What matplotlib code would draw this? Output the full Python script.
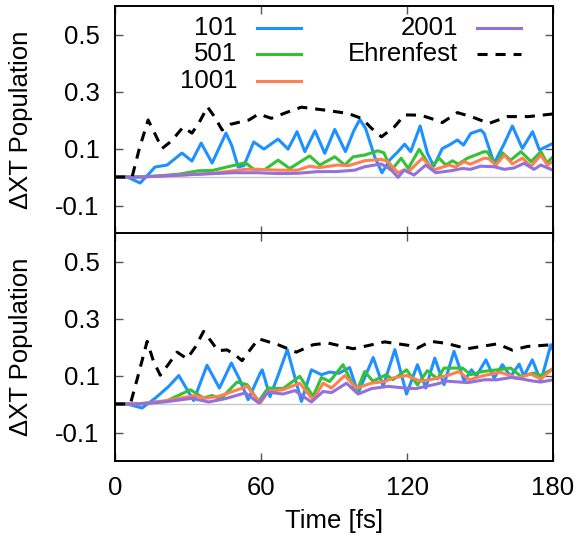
import matplotlib
matplotlib.use('Agg')
from matplotlib import pyplot as plt

# time [fs] / population values, top panel
top_t_101 = [0, 5, 10.3, 14, 16.4, 21.4, 27.5, 31.6, 35.4, 39.9, 45.6, 48, 50.6, 53, 57,
             61.2, 67, 71.1, 74.8, 78, 82.2, 86.2, 90.3, 94.7, 98, 100.6, 103, 106.7, 109.7,
             112.9, 116.3, 119, 121.5, 125.4, 128.4, 131, 134.5, 137.3, 140.7, 143.2, 146.2,
             150.3, 151.7, 155.8, 160, 163.3, 167.4, 171.6, 174.4, 180]
top_v_101 = [0, 0, -0.021, 0.012, 0.035, 0.042, 0.084, 0.056, 0.119, 0.049, 0.154, 0.11, 0.035,
             0.04, 0.123, 0.098, 0.133, 0.098, 0.159, 0.089, 0.162, 0.083, 0.167, 0.089, 0.16,
             0.202, 0.17, 0.071, 0.015, 0.06, 0.089, 0.115, 0.089, 0.179, 0.083, 0.038, 0.1,
             0.112, 0.13, 0.112, 0.153, 0.165, 0.153, 0.048, 0.118, 0.179, 0.1, 0.159, 0.095,
             0.118]

top_t_501 = [0, 8, 16.6, 26.2, 34.4, 40, 45.4, 53.6, 57, 61.5, 67, 71.8, 80, 84.2, 90.3, 94.4,
             97.9, 102.6, 108, 110.5, 113.6, 117.6, 120.5, 125, 129.8, 133.2, 135.9, 138.7, 141,
             144.8, 151.7, 153, 156.5, 159.2, 162.6, 166.8, 171, 175, 177.5, 180]
top_v_501 = [0, 0, 0.003, 0.01, 0.022, 0.023, 0.034, 0.05, 0.027, 0.026, 0.059, 0.03, 0.074,
             0.042, 0.071, 0.042, 0.071, 0.077, 0.092, 0.085, 0.024, 0.066, 0.03, 0.097, 0.034,
             0.066, 0.042, 0.057, 0.045, 0.066, 0.089, 0.088, 0.042, 0.085, 0.059, 0.089, 0.054,
             0.089, 0.05, 0.071]

top_t_1001 = [0, 10, 25, 39.9, 53.6, 58.8, 67, 75, 80, 84, 91.5, 96, 102.6, 109.4, 112,
              116.3, 118.8, 121, 126.3, 131, 137.3, 140, 143.4, 146, 151.7, 153.5, 156.5, 160,
              163.3, 167.4, 171, 175, 177.7, 180]
top_v_1001 = [0, 0, 0.006, 0.013, 0.027, 0.027, 0.024, 0.024, 0.038, 0.033, 0.042, 0.04, 0.057,
              0.062, 0.055, 0.015, 0.025, 0.022, 0.066, 0.025, 0.042, 0.035, 0.054, 0.045, 0.066,
              0.065, 0.042, 0.077, 0.046, 0.066, 0.038, 0.077, 0.042, 0.055]

top_t_2001 = [0, 10, 30, 48.6, 58.8, 67, 75, 83.4, 91, 98.5, 102.6, 109.4, 113.6, 116.3, 118.8,
              122.9, 127.7, 131.8, 138, 142.8, 146, 150.3, 155.8, 160, 164, 168.1, 172.2, 175,
              180]
top_v_2001 = [0, 0, 0.008, 0.015, 0.015, 0.012, 0.013, 0.019, 0.019, 0.024, 0.036, 0.046, 0.024,
              -0.001, 0.024, 0.007, 0.042, 0.015, 0.022, 0.03, 0.027, 0.038, 0.036, 0.027, 0.032,
              0.048, 0.027, 0.042, 0.024]

top_t_ehr = [0, 7, 10, 13.6, 16.5, 19.3, 23, 28, 31.6, 34.5, 38, 41, 44, 47.5, 51.4, 55, 59,
             64.2, 70, 76.6, 86, 95.8, 101.5, 105.4, 109.5, 114.9, 119, 125.6, 130, 134.5,
             140.7, 147, 153.7, 161.3, 170, 179.7]
top_v_ehr = [0, 0, 0.1, 0.2, 0.15, 0.1, 0.125, 0.175, 0.154, 0.19, 0.246, 0.21, 0.165, 0.185,
             0.193, 0.2, 0.221, 0.206, 0.225, 0.245, 0.235, 0.223, 0.205, 0.171, 0.141, 0.177,
             0.218, 0.217, 0.205, 0.191, 0.226, 0.21, 0.188, 0.212, 0.212, 0.221]

# bottom panel
bot_t_101 = [0, 5, 11.1, 16.6, 22.1, 26.2, 32.3, 37.8, 42.9, 47.8, 51, 54.7, 59.7, 60.5, 63.7,
             67, 70.8, 76.6, 80.7, 84.8, 88.2, 92, 96.4, 99.9, 106.1, 110.2, 115, 119.8, 124.3,
             127.7, 131.4, 135.2, 139.3, 143.5, 146.5, 148.5, 152.4, 155.8, 159.2, 162.6, 166.1,
             168, 171.5, 175, 179.1, 180]
bot_v_101 = [0, 0, -0.014, 0.021, 0.062, 0.1, 0.012, 0.136, 0.056, 0.144, 0.09, 0.015, 0.109,
             0.12, 0.026, 0.1, 0.191, 0.009, 0.12, 0.103, 0.112, 0.108, 0.128, 0.038, 0.163,
             0.062, 0.191, 0.035, 0.138, 0.056, 0.161, 0.068, 0.185, 0.08, 0.12, 0.098, 0.155,
             0.091, 0.138, 0.097, 0.14, 0.098, 0.155, 0.08, 0.208, 0.19]

bot_t_501 = [0, 8, 20.7, 31, 36.4, 39.9, 43.5, 50.1, 54.3, 59, 62.9, 69, 75.9, 81.4, 84.8, 88.2,
             93.7, 99.2, 102.6, 106, 111.5, 114.2, 119.8, 124.3, 128.4, 132.5, 135.2, 142.8,
             146.2, 151, 157.1, 162.6, 166.8, 172.2, 175, 180]
bot_v_501 = [0, 0, 0.009, 0.05, 0.021, 0.03, 0.018, 0.077, 0.068, 0.009, 0.056, 0.054, 0.097,
             0.027, 0.093, 0.079, 0.138, 0.042, 0.114, 0.08, 0.103, 0.085, 0.12, 0.067, 0.117,
             0.088, 0.126, 0.126, 0.103, 0.114, 0.12, 0.126, 0.097, 0.109, 0.1, 0.124]

bot_t_1001 = [0, 10, 21, 33, 37, 42.6, 54.3, 59.7, 62.9, 69, 75.9, 81.4, 85.5, 89, 94.4, 99.2,
              105.4, 110.8, 114.2, 119.8, 125.6, 131.1, 136.6, 141.4, 145.5, 151.7, 158.5,
              165.4, 170.8, 175, 180]
bot_v_1001 = [0, 0, 0.012, 0.03, 0.02, 0.027, 0.062, 0.003, 0.044, 0.05, 0.073, 0.015, 0.073,
              0.056, 0.1, 0.056, 0.073, 0.079, 0.091, 0.1, 0.08, 0.088, 0.1, 0.114, 0.085, 0.1,
              0.111, 0.091, 0.105, 0.088, 0.124]

bot_t_2001 = [0, 10, 21, 31.6, 38.5, 45.4, 53.6, 59, 62.9, 69, 73.9, 80.7, 85.5, 89, 95.1, 99.9,
              105.4, 112.2, 119.1, 123.6, 131.1, 136.6, 140, 145, 151.7, 157, 162.6, 167,
              172.2, 175, 180]
bot_v_2001 = [0, 0, 0.008, 0.02, 0.007, 0.019, 0.039, 0.004, 0.042, 0.035, 0.047, 0.007, 0.044,
              0.04, 0.073, 0.035, 0.054, 0.062, 0.056, 0.054, 0.068, 0.08, 0.078, 0.075, 0.085,
              0.085, 0.093, 0.088, 0.08, 0.077, 0.085]

bot_t_ehr = [0, 6.3, 9.5, 13.2, 15.8, 18.6, 22, 25.5, 29.6, 33, 36.4, 39.5, 42.3, 46, 49,
             52.2, 55.5, 59, 67, 74.5, 81.4, 87.5, 97.8, 104, 110.8, 120.4, 124.3, 129.7, 136,
             144.8, 157.1, 163.3, 169.5, 179.7]
bot_v_ehr = [0, 0, 0.1, 0.22, 0.15, 0.101, 0.14, 0.182, 0.159, 0.2, 0.255, 0.22, 0.187, 0.19,
             0.175, 0.152, 0.19, 0.229, 0.208, 0.182, 0.208, 0.214, 0.194, 0.205, 0.218, 0.206,
             0.196, 0.22, 0.213, 0.194, 0.211, 0.189, 0.202, 0.208]

labels = ['101', '501', '1001', '2001', 'Ehrenfest']
colors = ['#1e90ff', '#33c233', '#ff7f50', '#9370db', 'black']

yticks = [-0.1, 0.1, 0.3, 0.5]
ytick_labels = ['-0.1', '0.1', '0.3', '0.5']
xticks = [0, 60, 120, 180]

plt.rcParams['font.family'] = ['Liberation Sans', 'DejaVu Sans']
plt.rcParams['font.size'] = 18.5

fig = plt.figure(figsize=(5.76, 5.36), dpi=100)
ax1 = fig.add_axes([0.1997, 0.5634, 0.7604, 0.4254])
ax2 = fig.add_axes([0.1997, 0.1399, 0.7604, 0.4254])

panels = [
    (ax1, [(top_t_101, top_v_101), (top_t_501, top_v_501), (top_t_1001, top_v_1001),
           (top_t_2001, top_v_2001), (top_t_ehr, top_v_ehr)]),
    (ax2, [(bot_t_101, bot_v_101), (bot_t_501, bot_v_501), (bot_t_1001, bot_v_1001),
           (bot_t_2001, bot_v_2001), (bot_t_ehr, bot_v_ehr)]),
]

for ax, series in panels:
    ax.axhline(0, color='#c8c8c8', lw=1.0, zorder=1)
    for (t, v), lab, c in zip(series, labels, colors):
        if lab == 'Ehrenfest':
            ax.plot(t, v, color=c, lw=2.2, dashes=(3.3, 2.6), zorder=3,
                    dash_joinstyle='round', dash_capstyle='butt')
        else:
            ax.plot(t, v, color=c, lw=2.2, zorder=2, solid_joinstyle='round')
    ax.set_xlim(0, 180)
    ax.set_ylim(-0.2, 0.6)
    ax.set_xticks(xticks)
    ax.set_yticks(yticks)
    ax.set_yticklabels(ytick_labels)
    ax.tick_params(direction='in', length=6, width=1.0, top=True, right=True, pad=11,
                   color='#555555')
    for sp in ax.spines.values():
        sp.set_linewidth(1.4)
    ax.set_ylabel('ΔXT Population')
    ax.yaxis.set_label_coords(-0.187, 0.5)

ax1.tick_params(labelbottom=False)
ax2.set_xlabel('Time [fs]', labelpad=6)

# gnuplot-style key: right-aligned text followed by the line sample
key_pos = [(0.2785, 0.904, 0.324, 0.425), (0.2785, 0.789, 0.324, 0.425),
           (0.2785, 0.671, 0.324, 0.425), (0.783, 0.904, 0.826, 0.926),
           (0.783, 0.789, 0.826, 0.926)]
for (tx, ty, x0, x1), lab, c in zip(key_pos, labels, colors):
    ax1.text(tx, ty, lab, transform=ax1.transAxes, ha='right', va='center')
    if lab == 'Ehrenfest':
        ax1.plot([x0, x1], [ty, ty], transform=ax1.transAxes, color=c, lw=2.2,
                 dashes=(3.3, 2.6))
    else:
        ax1.plot([x0, x1], [ty, ty], transform=ax1.transAxes, color=c, lw=2.2)

fig.savefig('out.png', dpi=100)
